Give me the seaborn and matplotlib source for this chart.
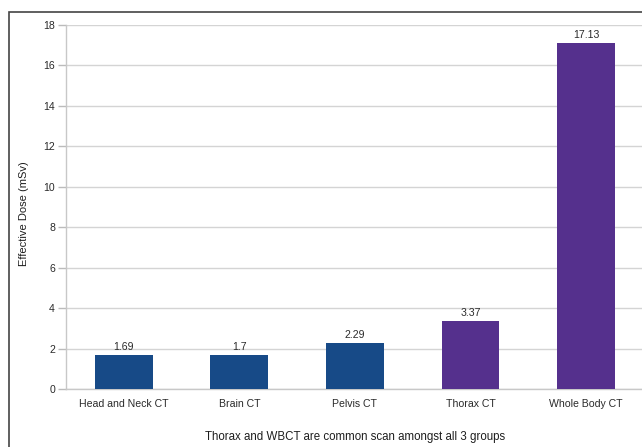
import matplotlib
matplotlib.use("Agg")
import matplotlib.pyplot as plt
from matplotlib.patches import Rectangle
import numpy as np
import pandas as pd
import seaborn as sns

# Effective dose per CT scan type
scans = ["Head and Neck CT", "Brain CT", "Pelvis CT", "Thorax CT", "Whole Body CT"]
doses = [1.69, 1.7, 2.29, 3.37, 17.13]
dose_labels = ["1.69", "1.7", "2.29", "3.37", "17.13"]
groups = ["other", "other", "other", "common", "common"]
group_colors = {"other": "#174a87", "common": "#55308d"}
y_ticks = [0, 2, 4, 6, 8, 10, 12, 14, 16, 18]

df = pd.DataFrame({"scan": scans, "dose": doses, "group": groups})

sns.set_style("white")
plt.rcParams["font.family"] = ["Liberation Sans", "DejaVu Sans"]

fig = plt.figure(figsize=(6.42, 4.47), dpi=100)
W, H = 642, 447
ax = fig.add_axes([66 / W, 58 / H, (644 - 66) / W, (389 - 25) / H])

sns.barplot(data=df, x="scan", y="dose", hue="group", palette=group_colors,
            dodge=False, width=0.5, legend=False, ax=ax, saturation=1,
            edgecolor="none", zorder=3)

# value labels above each bar
for cont in ax.containers:
    labs = []
    for bar in cont:
        h = bar.get_height()
        if np.isnan(h):
            labs.append("")
        else:
            labs.append(dose_labels[doses.index(round(h, 2))])
    ax.bar_label(cont, labels=labs, padding=2, fontsize=7.6, color="#2a2a2a")

ax.set_ylim(0, 18)
ax.set_xlim(-0.5, len(scans) - 0.5)
ax.set_yticks(y_ticks)
ax.set_yticklabels([str(t) for t in y_ticks], fontsize=7.6, color="#2a2a2a")
ax.yaxis.grid(True, color="#d4d4d4", linewidth=1.0, zorder=0)
ax.set_axisbelow(True)

# category labels at centres, tick marks at category boundaries
ax.set_xticks(range(len(scans)))
ax.set_xticklabels(scans, fontsize=7.6, color="#2a2a2a")
ax.tick_params(axis="x", which="major", length=0, pad=7)
ax.set_xticks(np.arange(-0.5, len(scans), 1.0), minor=True)
ax.tick_params(axis="x", which="minor", length=4, color="#bbbbbb", width=1)
ax.tick_params(axis="y", length=6, color="#bbbbbb", width=1, pad=2, left=True)

for side in ["top", "right"]:
    ax.spines[side].set_visible(False)
for side in ["left", "bottom"]:
    ax.spines[side].set_color("#c8c8c8")
    ax.spines[side].set_linewidth(1.0)

ax.set_ylabel("Effective Dose (mSv)", fontsize=8, color="#1e1e1e")
ax.yaxis.set_label_coords(-0.064, 0.483)
ax.set_xlabel("Thorax and WBCT are common scan amongst all 3 groups",
              fontsize=8.3, color="#1e1e1e", labelpad=16)

# outer frame
fig.patches.append(Rectangle((9 / W, -0.1), 1.2, 1 - 12 / H + 0.1,
                             transform=fig.transFigure, fill=False,
                             edgecolor="#444444", linewidth=1.2))

fig.savefig("out.png", dpi=100)
